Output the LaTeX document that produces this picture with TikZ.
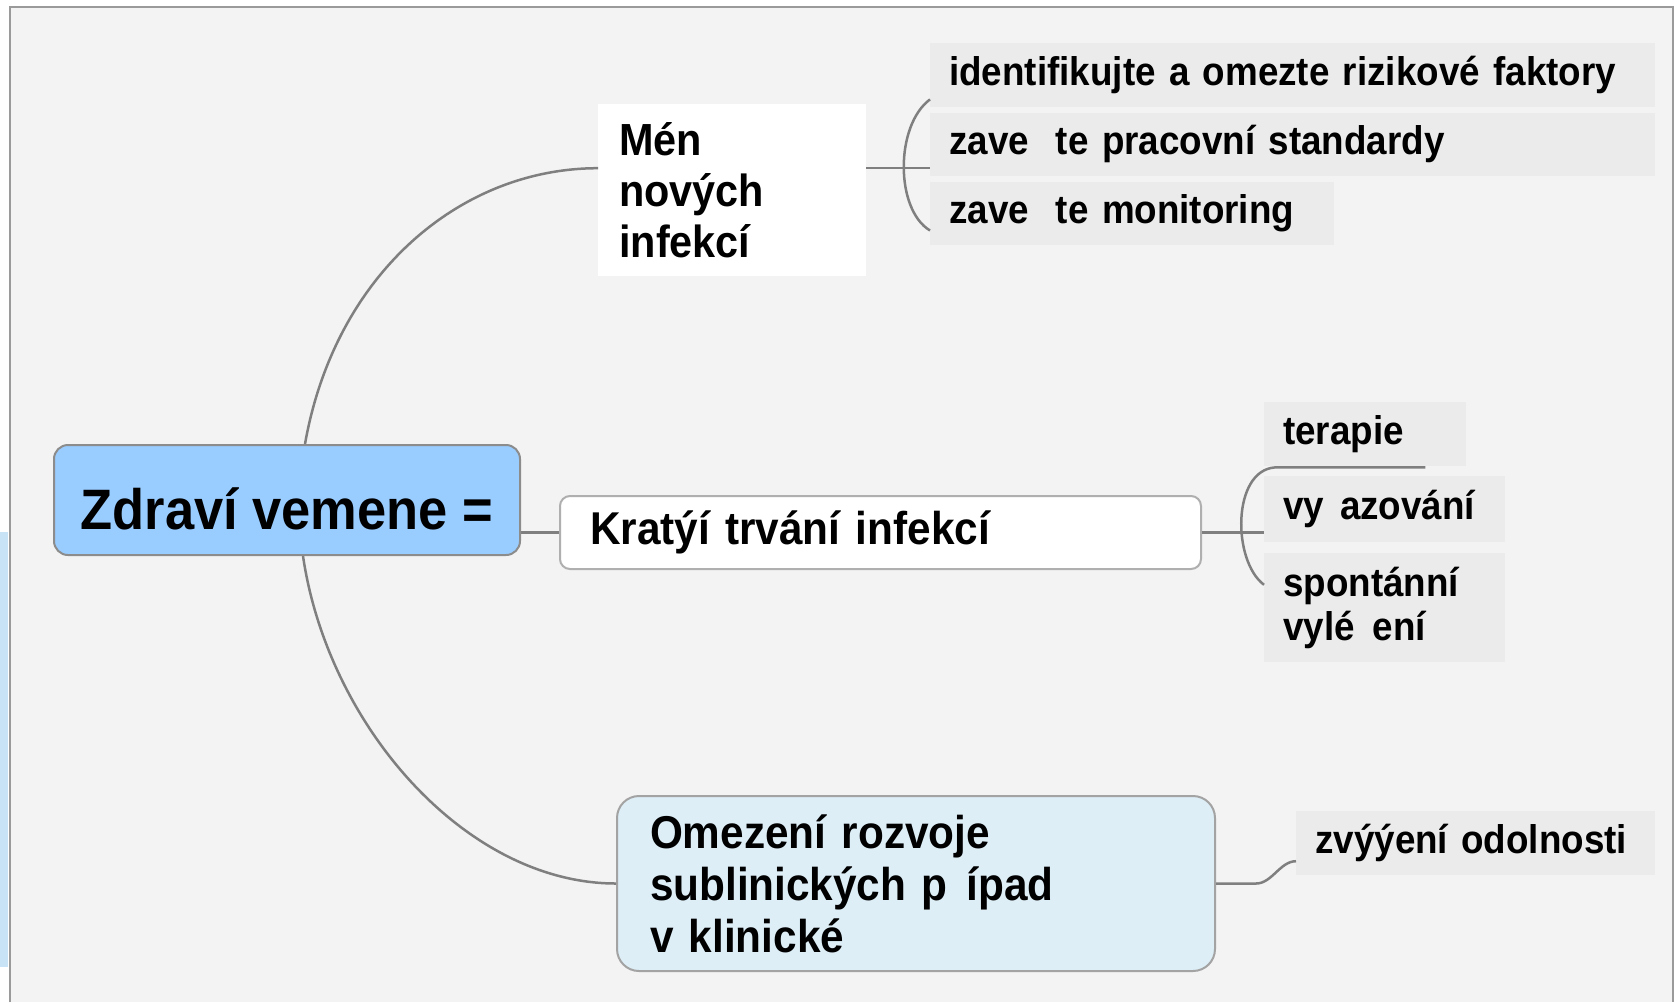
\documentclass[tikz,border=0pt]{standalone}
\usepackage{fontspec}
\setmainfont{Liberation Sans}[FakeStretch=0.92]
\usetikzlibrary{shapes,positioning}

\definecolor{bggray}{HTML}{F3F3F3}
\definecolor{subgray}{HTML}{EBEBEB}
\definecolor{framegray}{HTML}{9A9A9A}
\definecolor{linegray}{HTML}{7F7F7F}
\definecolor{bordergray}{HTML}{8C8C8C}
\definecolor{rootblue}{HTML}{99CCFF}
\definecolor{omezblue}{HTML}{DDEEF7}
\definecolor{stripblue}{HTML}{C8E2F6}

\tikzstyle{rootbox}  = [rectangle, draw=bordergray, line width=2pt, fill=rootblue, rounded corners=14pt, minimum width=466pt, minimum height=110pt, inner sep=0pt, text height=60pt, text depth=1pt, font=\fontsize{57}{60}\selectfont\bfseries]
\tikzstyle{whitebox} = [rectangle, fill=white, inner xsep=21pt, align=left, font=\fontsize{45}{51}\selectfont\bfseries, anchor=north west]
\tikzstyle{kratbox}  = [rectangle, draw=bordergray!70, line width=2pt, fill=white, rounded corners=10pt, inner xsep=30pt, align=left, font=\fontsize{46}{52}\selectfont\bfseries, anchor=north west]
\tikzstyle{omezbox}  = [rectangle, draw=bordergray!80, line width=2pt, fill=omezblue, rounded corners=22pt, inner xsep=33pt, align=left, font=\fontsize{46}{52}\selectfont\bfseries, anchor=north west]
\tikzstyle{subbox}   = [rectangle, fill=subgray, inner xsep=19pt, align=left, font=\fontsize{40}{44}\selectfont\bfseries, anchor=north west, minimum height=63pt]
\tikzstyle{link}     = [draw=linegray, line width=2.5pt]

\begin{document}
\begin{tikzpicture}[x=1pt, y=-1pt]
  \useasboundingbox (0,0) rectangle (1680,1002);
  % background and frame
  \fill[white] (0,0) rectangle (1680,1002);
  \fill[stripblue] (0,532) rectangle (8,967);
  \fill[bggray] (10,7) rectangle (1673,1002);
  \draw[framegray, line width=2.5pt] (10,1002) -- (10,7) -- (1673,7) -- (1673,1002);

  % main branches
  \node [rootbox] (root) at (287,500) {Zdraví vemene =};
  \node [whitebox, text width=226pt, minimum height=172pt] (men) at (598,104) {Mén\\nových\\infekcí};
  \node [kratbox, text width=581pt, minimum height=73pt] (krat) at (559,495) {Kratýí trvání infekcí};
  \node [omezbox, text width=532pt, minimum height=175pt] (omez) at (616,795) {Omezení rozvoje\\sublinických p\hspace{19pt}ípad\\v klinické};

  % leaves
  \node [subbox, text width=687pt, minimum height=64pt] (ident) at (930,43) {identifikujte a omezte rizikové faktory};
  \node [subbox, text width=687pt, below=5pt of ident.south west, anchor=north west] (prac) {zave\hspace{27pt}te pracovní standardy};
  \node [subbox, text width=366pt, below=6pt of prac.south west, anchor=north west] (monit) {zave\hspace{27pt}te monitoring};

  \node [subbox, text width=164pt, minimum height=64pt] (terapie) at (1264,402) {terapie};
  \node [subbox, text width=203pt, minimum height=66pt, below=9pt of terapie.south west, anchor=north west] (vyraz) {vy\hspace{16pt}azování};
  \node [subbox, text width=203pt, minimum height=109pt, below=11pt of vyraz.south west, anchor=north west] (spont) {spontánní\\vylé\hspace{18pt}ení};

  \node [subbox, text width=321pt, minimum height=64pt] (zvys) at (1296,811) {zvýýení odolnosti};

  % connectors
  \path [link] ([xshift=18pt]root.north) .. controls +(30,-170) and +(-138,0) .. ([yshift=22pt]men.west);
  \path [link] (krat.west -| root.east) -- (krat.west);
  \path [link] ([xshift=16pt]root.south) .. controls +(25,170) and +(-150,0) .. (omez.west);

  \path [link] ([yshift=22pt]men.east) -- ([yshift=22pt]men.east -| prac.west);
  \path [link] ([yshift=8pt]ident.south west) .. controls +(-35,26) and +(-35,-21) .. ([yshift=-17pt]monit.west);

  \path [link] (krat.east) -- (krat.east -| vyraz.west);
  \path [link] ([xshift=-41pt,yshift=-1pt]terapie.south east) -- ([xshift=11pt,yshift=-1pt]terapie.south west)
        .. controls +(-43,3) and +(-32,-24) .. ([yshift=-32pt]spont.north west);

  \path [link] (omez.east) -- ([xshift=40pt]omez.east) .. controls +(16,0) and +(-16,0) .. ([yshift=-18pt]zvys.west);
\end{tikzpicture}
\end{document}
